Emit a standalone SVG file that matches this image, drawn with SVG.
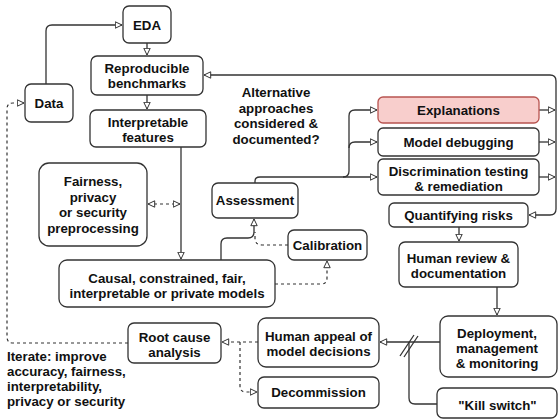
<svg xmlns="http://www.w3.org/2000/svg" width="558" height="419" viewBox="0 0 558 419">
<defs>
<marker id="arr" viewBox="0 0 8 8" refX="7.5" refY="4" markerWidth="8" markerHeight="8" markerUnits="userSpaceOnUse" orient="auto-start-reverse">
<path d="M0.8,0.8 L7.5,4 L0.8,7.2 Z" fill="#fff" stroke="#333" stroke-width="1"/>
</marker>
<style>
.box{fill:#fff;stroke:#333;stroke-width:1.3}
.pink{fill:#f8cecc;stroke:#b85450;stroke-width:1.3}
.t{font-family:"Liberation Sans",Arial,sans-serif;font-size:13.3px;font-weight:bold;fill:#111;text-anchor:middle}
.tl{font-family:"Liberation Sans",Arial,sans-serif;font-size:13.3px;font-weight:bold;fill:#111}
.e{fill:none;stroke:#333;stroke-width:1.3}
.d{fill:none;stroke:#333;stroke-width:1.2;stroke-dasharray:3 3}
</style>
</defs>
<rect width="558" height="419" fill="#fff"/>
<g id="connectors">
<path class="e" d="M46,84 L46,31 Q46,25 52,25 L122,25" marker-end="url(#arr)"/>
<path class="e" d="M147,43 L147,55" marker-end="url(#arr)"/>
<path class="e" d="M147,95 L147,109" marker-end="url(#arr)"/>
<path class="e" d="M181,147 L181,259" marker-end="url(#arr)"/>
<path class="d" d="M148,204 L180,204" marker-start="url(#arr)" marker-end="url(#arr)"/>
<path class="e" d="M221,260 L221,244 Q221,238 227,238 L248,238 Q254,238 254,232 L254,219" marker-end="url(#arr)"/>
<path class="d" d="M288,245 L262,245 Q255,245 255,238 L255,232"/>
<path class="d" d="M275,284 L321,284 Q327,284 327,278 L327,261" marker-end="url(#arr)"/>
<path class="e" d="M255,183 L255,181 Q255,177 260,177 L377,177" marker-end="url(#arr)"/>
<path class="e" d="M343,177 Q349,177 349,171 L349,148 Q349,142 355,142 L377,142" marker-end="url(#arr)"/>
<path class="e" d="M349,148 L349,116 Q349,110 355,110 L377,110" marker-end="url(#arr)"/>
<path class="e" d="M539,110 L555,110" marker-end="url(#arr)"/>
<path class="e" d="M539,142 L555,142" marker-end="url(#arr)"/>
<path class="e" d="M539,177 L555,177" marker-end="url(#arr)"/>
<path class="e" d="M529,215 L550,215 Q556,215 556,209 L556,81 Q556,75 550,75 L204,75" marker-start="url(#arr)" marker-end="url(#arr)"/>
<path class="e" d="M459,227 L459,241" marker-end="url(#arr)"/>
<path class="e" d="M497,287 L497,315" marker-end="url(#arr)"/>
<path class="e" d="M440,342 L380,342" marker-end="url(#arr)"/>
<path class="e" d="M400,356 L414,335 M404,357 L418,336"/>
<path class="e" d="M437,404 L415,404 Q409,404 409,398 L409,342"/>
<path class="d" d="M258,342 L222,342" marker-end="url(#arr)"/>
<path class="d" d="M240,342 L240,386 Q240,392 246,392 L257,392" marker-end="url(#arr)"/>
<path class="d" d="M128,343 L13,343 Q7,343 7,337 L7,109 Q7,103 13,103 L24,103" marker-end="url(#arr)"/>
</g>
<g id="eda"><rect class="box" x="123" y="6" width="48" height="37" rx="6"/><text class="t" x="147" y="29.5">EDA</text></g>
<g id="benchmarks"><rect class="box" x="91" y="56" width="112" height="39" rx="6"/><text class="t" x="147" y="73">Reproducible</text><text class="t" x="147" y="88">benchmarks</text></g>
<g id="data"><rect class="box" x="25" y="84" width="48" height="38" rx="6"/><text class="t" x="49" y="107.5">Data</text></g>
<g id="features"><rect class="box" x="90" y="110" width="116" height="37" rx="6"/><text class="t" x="148" y="126.5">Interpretable</text><text class="t" x="148" y="141.5">features</text></g>
<g id="fairness"><rect class="box" x="39" y="163" width="108" height="83" rx="10"/><text class="t" x="93" y="186">Fairness,</text><text class="t" x="93" y="201.5">privacy</text><text class="t" x="93" y="217">or security</text><text class="t" x="93" y="232.5">preprocessing</text></g>
<g id="assessment"><rect class="box" x="212" y="183" width="86" height="35" rx="6"/><text class="t" x="255" y="205">Assessment</text></g>
<g id="calibration"><rect class="box" x="288" y="230" width="79" height="30" rx="6"/><text class="t" x="327.5" y="249.5">Calibration</text></g>
<g id="models"><rect class="box" x="59" y="260" width="216" height="47" rx="8"/><text class="t" x="167" y="282.5">Causal, constrained, fair,</text><text class="t" x="167" y="297.5">interpretable or private models</text></g>
<g id="question"><text class="t" x="276" y="97">Alternative</text><text class="t" x="276" y="112.5">approaches</text><text class="t" x="276" y="128">considered &amp;</text><text class="t" x="276" y="143.5">documented?</text></g>
<g id="explanations"><rect class="pink" x="378" y="97" width="161" height="26" rx="5"/><text class="t" x="458.5" y="114.5">Explanations</text></g>
<g id="debugging"><rect class="box" x="378" y="128" width="161" height="28" rx="5"/><text class="t" x="458.5" y="146.5">Model debugging</text></g>
<g id="discrimination"><rect class="box" x="378" y="159" width="161" height="36" rx="5"/><text class="t" x="458.5" y="175.5">Discrimination testing</text><text class="t" x="458.5" y="190.5">&amp; remediation</text></g>
<g id="risks"><rect class="box" x="389" y="203" width="139" height="24" rx="5"/><text class="t" x="458.5" y="220">Quantifying risks</text></g>
<g id="review"><rect class="box" x="399" y="242" width="119" height="45" rx="6"/><text class="t" x="458.5" y="262.5">Human review &amp;</text><text class="t" x="458.5" y="277.5">documentation</text></g>
<g id="deployment"><rect class="box" x="440" y="316" width="117" height="61" rx="8"/><text class="t" x="497" y="337.5">Deployment,</text><text class="t" x="497" y="352.5">management</text><text class="t" x="497" y="367.5">&amp; monitoring</text></g>
<g id="killswitch"><rect class="box" x="437" y="388" width="120" height="30" rx="6"/><text class="t" x="497.5" y="409.5">"Kill switch"</text></g>
<g id="appeal"><rect class="box" x="258" y="318" width="121" height="49" rx="8"/><text class="t" x="318.5" y="340.5">Human appeal of</text><text class="t" x="318.5" y="355.5">model decisions</text></g>
<g id="decommission"><rect class="box" x="258" y="377" width="121" height="31" rx="6"/><text class="t" x="318.5" y="397">Decommission</text></g>
<g id="rootcause"><rect class="box" x="128" y="323" width="93" height="40" rx="6"/><text class="t" x="174.5" y="341.5">Root cause</text><text class="t" x="174.5" y="356.5">analysis</text></g>
<g id="iterate"><text class="tl" x="7" y="361">Iterate: improve</text><text class="tl" x="7" y="376">accuracy, fairness,</text><text class="tl" x="7" y="391">interpretability,</text><text class="tl" x="7" y="406">privacy or security</text></g>
</svg>
